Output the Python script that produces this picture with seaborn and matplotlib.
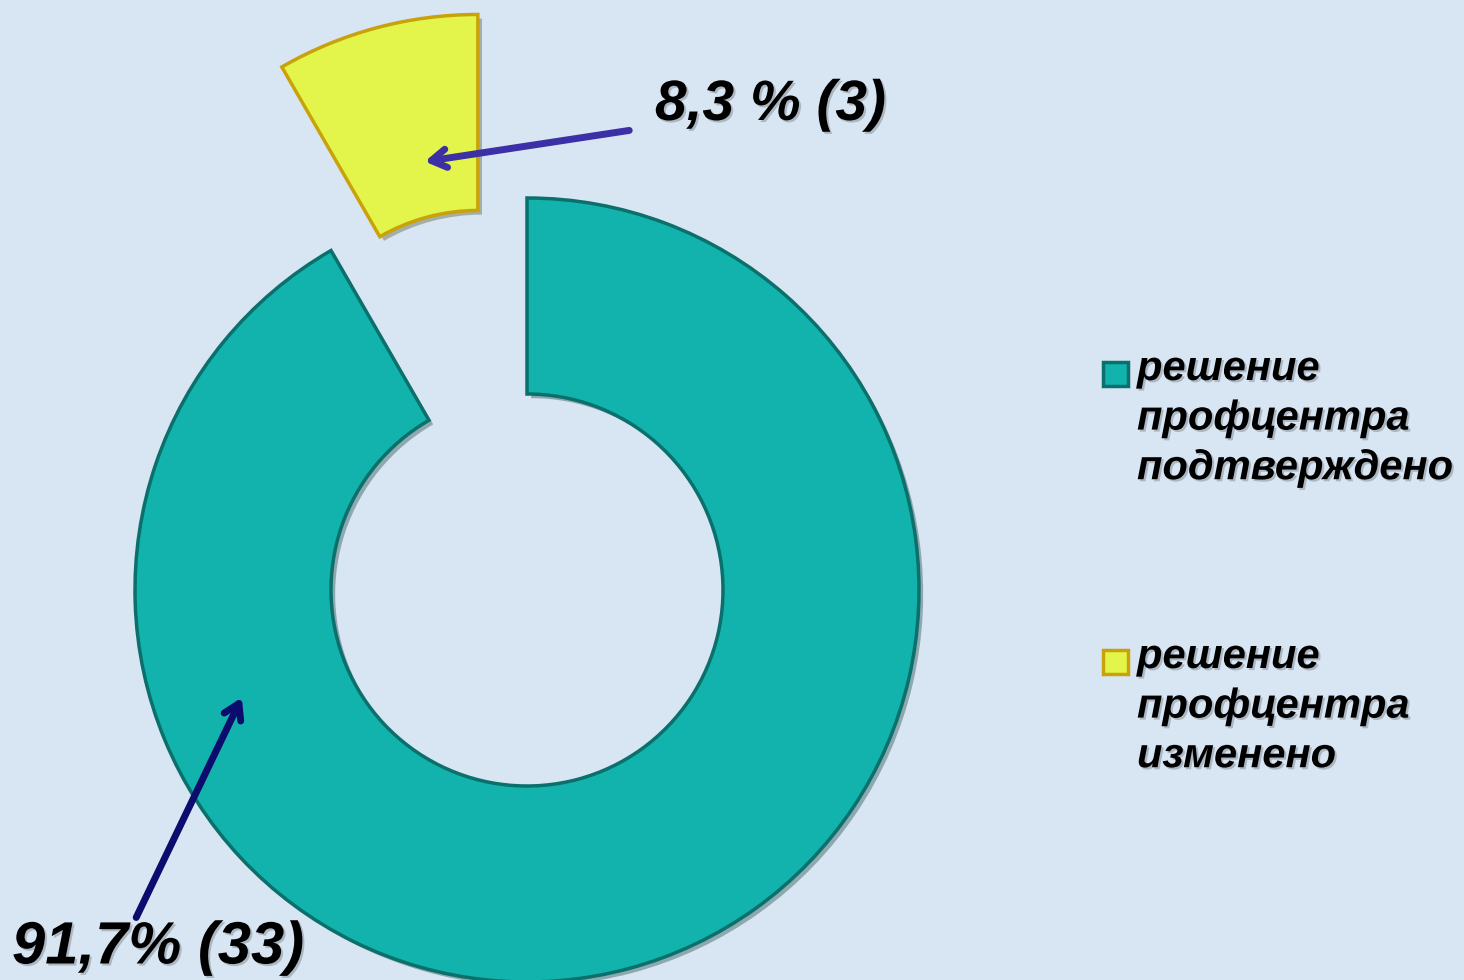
import matplotlib
matplotlib.use("Agg")
import matplotlib.pyplot as plt
import matplotlib.patheffects as pe
from matplotlib.patches import Rectangle
import seaborn as sns

# data
categories = ["решение\nпрофцентра\nподтверждено", "решение\nпрофцентра\nизменено"]
counts = [33, 3]
percent_labels = ["91,7% (33)", "8,3 % (3)"]
colors = ["#12b3ad", "#e3f54b"]
edge_colors = ["#0b6f6b", "#c9a20a"]

sns.set_theme(style="white")
plt.rcParams["font.family"] = ["Liberation Sans", "DejaVu Sans"]

bg = "#d8e5f3"
fig = plt.figure(figsize=(14.64, 9.8), dpi=100, facecolor=bg)
ax = fig.add_axes([0, 0, 1, 1])
ax.set_facecolor(bg)

wedges, _ = ax.pie(counts, colors=colors, startangle=90, counterclock=False,
                   radius=392, center=(527, 390), explode=[0, 190],
                   wedgeprops=dict(width=196, linewidth=2.5))
shadow = [pe.SimplePatchShadow(offset=(3, -3), alpha=0.35), pe.Normal()]
for w, ec in zip(wedges, edge_colors):
    w.set_edgecolor(ec)
    w.set_path_effects(shadow)
ax.set_xlim(0, 1464)
ax.set_ylim(0, 980)
ax.set_aspect("equal")
ax.axis("off")

txt_fx = [pe.withSimplePatchShadow(offset=(1.5, -1.5), alpha=0.2)]
big = dict(fontweight="bold", fontstyle="italic", color="black",
           va="center", ha="left", path_effects=txt_fx)

# 8,3 % label and arrow
ax.text(655, 875, percent_labels[1], fontsize=41, **big)
ax.annotate("", xy=(422, 818), xytext=(632, 850),
            arrowprops=dict(arrowstyle="->,head_length=0.9,head_width=0.55",
                            color="#3b30a6", lw=5))

# 91,7% label and arrow
ax.text(12, 32, percent_labels[0], fontsize=43, **big)
ax.annotate("", xy=(243, 285), xytext=(135, 60),
            arrowprops=dict(arrowstyle="->,head_length=0.9,head_width=0.55",
                            color="#0c0c6e", lw=5))

# legend
leg_y = [606, 318]
for lab, c, ec, y in zip(categories, colors, edge_colors, leg_y):
    ax.add_patch(Rectangle((1103, y - 12), 25, 24, facecolor=c, edgecolor=ec, lw=2.5))
    ax.text(1137, y + 25, lab, fontsize=30, fontweight="bold", fontstyle="italic",
            color="black", va="top", ha="left", linespacing=1.31, path_effects=txt_fx)

fig.savefig("out.png", dpi=100, facecolor=bg)
